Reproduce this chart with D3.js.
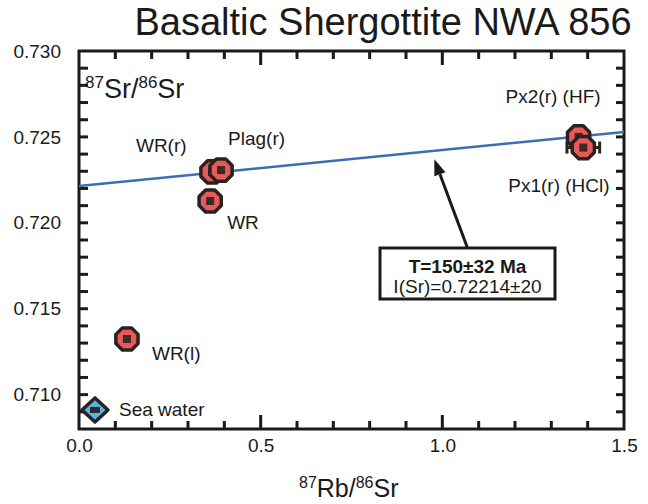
<!DOCTYPE html>
<html>
<head>
<meta charset="utf-8">
<script src="https://cdn.jsdelivr.net/npm/d3@7"></script>
<style>
  body { margin: 0; background: #fff; }
  text { font-family: "Liberation Sans", Arial, sans-serif; fill: #1a1a1a; }
</style>
</head>
<body>
<div id="chart"></div>
<script>
// Rb-Sr isochron, NWA 856
const samples = ["Sea water", "WR(l)", "WR", "WR(r)", "Plag(r)", "Px2(r) (HF)", "Px1(r) (HCl)"];
const rbSr    = [0.044, 0.132, 0.361, 0.366, 0.391, 1.375, 1.388];
const srSr    = [0.70911, 0.71324, 0.72127, 0.72296, 0.72307, 0.72500, 0.72438];
const rbErr   = [0, 0, 0, 0, 0, 0, 0.045];
const kinds   = ["water", "rock", "rock", "rock", "rock", "rock", "rock"];

const isoIntercept = 0.72214;
const isoSlope = 0.00210;
const ageText = "T=150±32 Ma";
const initText = "I(Sr)=0.72214±20";

const xTicks = [0.0, 0.5, 1.0, 1.5];
const yTicks = [0.710, 0.715, 0.720, 0.725, 0.730];

const width = 648, height = 504;
const plotLeft = 79, plotRight = 624, plotTop = 51, plotBottom = 429;

const x = d3.scaleLinear().domain([0, 1.5]).range([plotLeft, plotRight]);
const y = d3.scaleLinear().domain([0.708, 0.730]).range([plotBottom, plotTop]);

const svg = d3.select("#chart").append("svg")
  .attr("width", width)
  .attr("height", height);

// title
svg.append("text")
  .attr("x", 383).attr("y", 35)
  .attr("text-anchor", "middle")
  .style("font-size", "38px")
  .text("Basaltic Shergottite NWA 856");

// frame
svg.append("rect")
  .attr("x", plotLeft).attr("y", plotTop)
  .attr("width", plotRight - plotLeft).attr("height", plotBottom - plotTop)
  .attr("fill", "none").attr("stroke", "#1a1a1a").attr("stroke-width", 3);

// ticks, all pointing inward
const xMinor = d3.range(1, 15).filter(i => i % 5 != 0).map(i => i / 10);
const xMajor = [0.5, 1.0];
const yMinor = d3.range(709, 730).filter(i => i % 5 != 0).map(i => i / 1000);
const yMajor = [0.710, 0.715, 0.720, 0.725];

const tickG = svg.append("g").attr("stroke", "#1a1a1a").attr("stroke-width", 3);
const xTickList = xMinor.map(v => [v, 8]).concat(xMajor.map(v => [v, 14]));
const yTickList = yMinor.map(v => [v, 9]).concat(yMajor.map(v => [v, 9]));

tickG.selectAll(".xb").data(xTickList).join("line").attr("class", "xb")
  .attr("x1", d => x(d[0])).attr("x2", d => x(d[0]))
  .attr("y1", plotBottom).attr("y2", d => plotBottom - d[1]);
tickG.selectAll(".xt").data(xTickList).join("line").attr("class", "xt")
  .attr("x1", d => x(d[0])).attr("x2", d => x(d[0]))
  .attr("y1", plotTop).attr("y2", d => plotTop + d[1]);
tickG.selectAll(".yl").data(yTickList).join("line").attr("class", "yl")
  .attr("y1", d => y(d[0])).attr("y2", d => y(d[0]))
  .attr("x1", plotLeft).attr("x2", d => plotLeft + d[1]);
tickG.selectAll(".yr").data(yTickList).join("line").attr("class", "yr")
  .attr("y1", d => y(d[0])).attr("y2", d => y(d[0]))
  .attr("x1", plotRight).attr("x2", d => plotRight - d[1] + 1);

// tick labels
svg.append("g")
  .attr("transform", `translate(0,${plotBottom})`)
  .call(d3.axisBottom(x).tickValues(xTicks).tickSize(0).tickPadding(10).tickFormat(d3.format(".1f")))
  .call(g => g.select(".domain").remove())
  .call(g => g.selectAll("text").style("font-size", "19px").attr("fill", "#1a1a1a"));

svg.append("g")
  .attr("transform", `translate(${plotLeft},0)`)
  .call(d3.axisLeft(y).tickValues(yTicks).tickSize(0).tickPadding(18).tickFormat(d3.format(".3f")))
  .call(g => g.select(".domain").remove())
  .call(g => g.selectAll("text").style("font-size", "19px").attr("fill", "#1a1a1a"));

// axis titles with superscripts
function isoLabel(tx, ty, a, b, big, small) {
  const t = svg.append("text").attr("x", tx).attr("y", ty).style("font-size", big + "px");
  t.append("tspan").style("font-size", small + "px").attr("dy", -big * 0.38).text("87");
  t.append("tspan").attr("dy", big * 0.38).text(a + "/");
  t.append("tspan").style("font-size", small + "px").attr("dy", -big * 0.38).text("86");
  t.append("tspan").attr("dy", big * 0.38).text(b);
  return t;
}
isoLabel(85, 98, "Sr", "Sr", 27, 17);
isoLabel(299, 497, "Rb", "Sr", 25, 16);

// isochron
svg.append("line")
  .attr("x1", x(0)).attr("y1", y(isoIntercept))
  .attr("x2", x(1.5)).attr("y2", y(isoIntercept + isoSlope * 1.5))
  .attr("stroke", "#3d6eb4").attr("stroke-width", 2.5);

// data points
const pts = samples.map((s, i) => ({ name: s, rb: rbSr[i], sr: srSr[i], err: rbErr[i], kind: kinds[i] }));

const errG = svg.append("g").attr("stroke", "#2a2220").attr("stroke-width", 3);
pts.filter(d => d.err > 0).forEach(d => {
  const cy = y(d.sr);
  errG.append("line").attr("x1", x(d.rb - d.err)).attr("x2", x(d.rb + d.err)).attr("y1", cy).attr("y2", cy);
  errG.append("line").attr("x1", x(d.rb - d.err)).attr("x2", x(d.rb - d.err)).attr("y1", cy - 6).attr("y2", cy + 6);
  errG.append("line").attr("x1", x(d.rb + d.err)).attr("x2", x(d.rb + d.err)).attr("y1", cy - 6).attr("y2", cy + 6);
});

const octagon = d3.range(8).map(k => {
  const a = Math.PI / 8 + k * Math.PI / 4;
  return [12 * Math.cos(a), 12 * Math.sin(a)];
});

const marks = svg.append("g").selectAll("g")
  .data(pts)
  .join("g")
  .attr("transform", d => `translate(${x(d.rb)},${y(d.sr)})`);

marks.filter(d => d.kind == "rock").append("path")
  .attr("d", d3.line()(octagon) + "Z")
  .attr("fill", "#e9595a").attr("stroke", "#2a2220").attr("stroke-width", 3.5)
  .attr("stroke-linejoin", "round");
marks.filter(d => d.kind == "rock").append("rect")
  .attr("x", -4).attr("y", -4).attr("width", 8).attr("height", 8)
  .attr("fill", "#3a2a28");

marks.filter(d => d.kind == "water").append("path")
  .attr("d", "M0,-12L13,0L0,12L-13,0Z")
  .attr("fill", "#5db3e2").attr("stroke", "#2a2220").attr("stroke-width", 3.5)
  .attr("stroke-linejoin", "round");
marks.filter(d => d.kind == "water").append("rect")
  .attr("x", -5).attr("y", -3).attr("width", 10).attr("height", 6)
  .attr("fill", "#2a2a2a");

// point labels
const labelPos = {
  "Sea water": [24, 6],
  "WR(l)": [25, 21],
  "WR": [17, 28],
  "WR(r)": [-76, -20],
  "Plag(r)": [7, -25],
  "Px2(r) (HF)": [-73, -34],
  "Px1(r) (HCl)": [-75, 44]
};
svg.append("g").selectAll("text")
  .data(pts)
  .join("text")
  .attr("x", d => x(d.rb) + labelPos[d.name][0])
  .attr("y", d => y(d.sr) + labelPos[d.name][1])
  .style("font-size", "19px")
  .text(d => d.name);

// age annotation
const tip = [x(0.978), y(0.7237)];
const boxX = 380, boxY = 248, boxW = 175, boxH = 51;
const base = [boxX + boxW / 2, boxY];
const ang = Math.atan2(tip[1] - base[1], tip[0] - base[0]);
const hl = 16, hw = 6;
const bx = tip[0] - hl * Math.cos(ang), by = tip[1] - hl * Math.sin(ang);

svg.append("line")
  .attr("x1", base[0]).attr("y1", base[1]).attr("x2", bx).attr("y2", by)
  .attr("stroke", "#1a1a1a").attr("stroke-width", 3);
svg.append("path")
  .attr("d", `M${tip[0]},${tip[1]}L${bx + hw * Math.sin(ang)},${by - hw * Math.cos(ang)}L${bx - hw * Math.sin(ang)},${by + hw * Math.cos(ang)}Z`)
  .attr("fill", "#1a1a1a");

svg.append("rect")
  .attr("x", boxX).attr("y", boxY).attr("width", boxW).attr("height", boxH)
  .attr("fill", "#fff").attr("stroke", "#1a1a1a").attr("stroke-width", 3);
svg.append("text")
  .attr("x", base[0]).attr("y", boxY + 25)
  .attr("text-anchor", "middle").style("font-size", "19px").style("font-weight", "bold")
  .text(ageText);
svg.append("text")
  .attr("x", base[0]).attr("y", boxY + 45)
  .attr("text-anchor", "middle").style("font-size", "19px")
  .text(initText);
</script>
</body>
</html>
